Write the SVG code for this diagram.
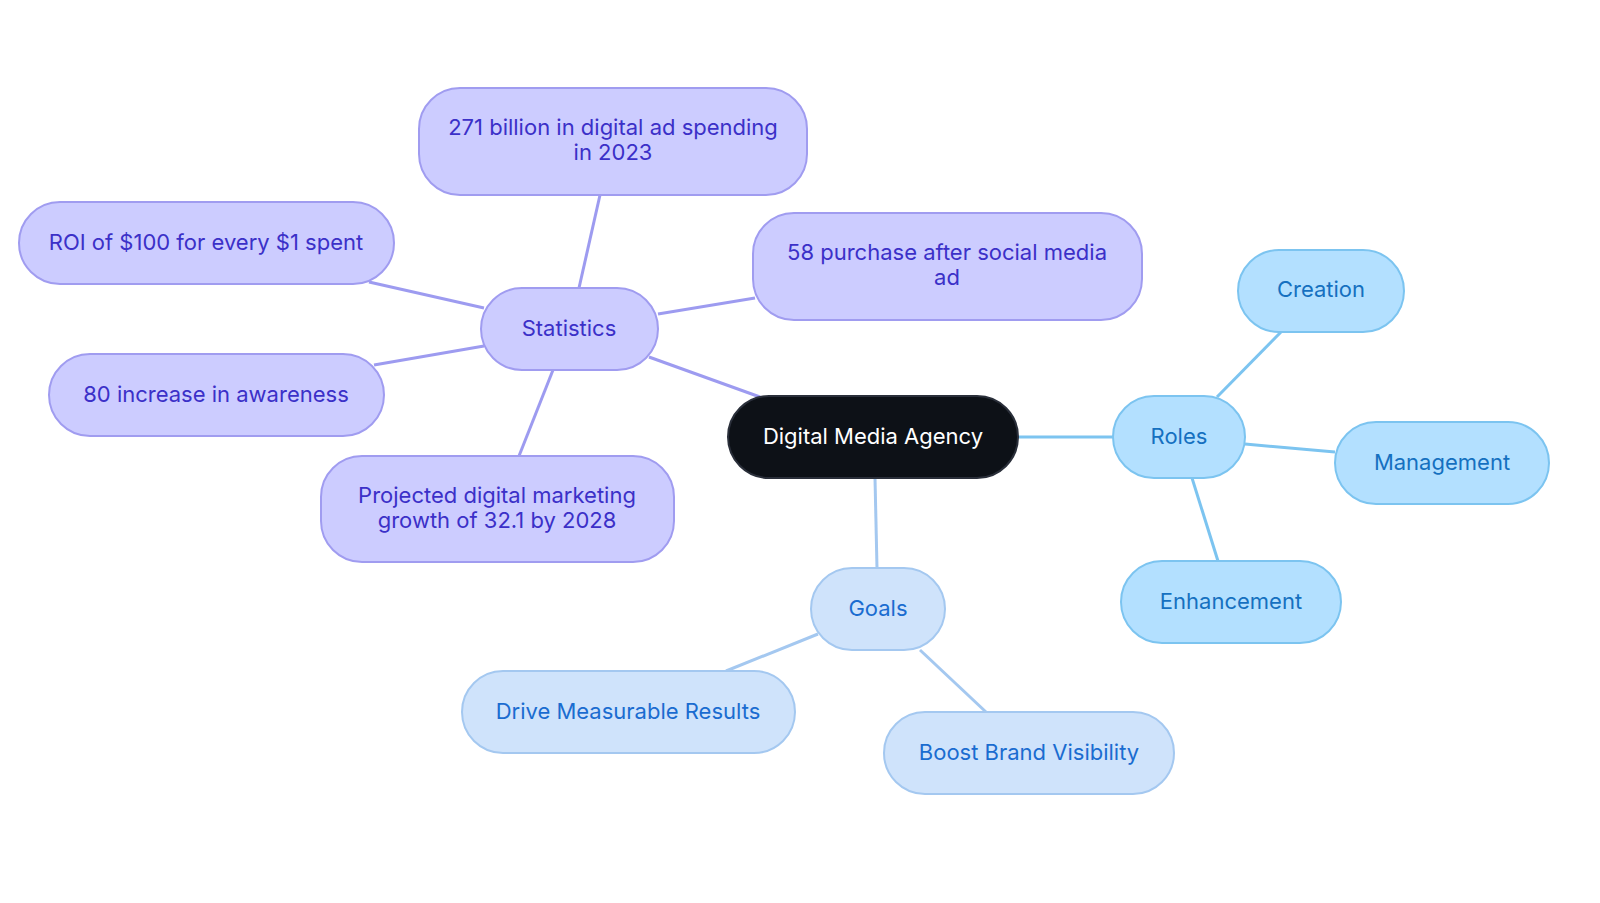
<svg xmlns="http://www.w3.org/2000/svg" width="1600" height="903" viewBox="0 0 1600 903">
<style>
text{font-family:Inter,"Noto Sans","Liberation Sans",sans-serif;font-size:22px;text-anchor:middle;dominant-baseline:central}
.s rect{fill:#ccccff;stroke:#a09cf0;stroke-width:2}.s text{fill:#3b30c8}
.r rect{fill:#b3e0ff;stroke:#7cc4f0;stroke-width:2}.r text{fill:#1570c0}
.g rect{fill:#cfe3fb;stroke:#a4c8f0;stroke-width:2}.g text{fill:#1a6cd0}
.e line{stroke-width:3}
</style>
<rect width="1600" height="903" fill="#fff"/>
<g id="connectors" class="e">
<g stroke="#9d9bf0">
<line x1="760" y1="397" x2="649" y2="357"/><line x1="579" y1="288" x2="600" y2="195"/><line x1="658" y1="314" x2="755" y2="298"/><line x1="484" y1="308" x2="369" y2="282"/><line x1="484" y1="346" x2="374" y2="365"/><line x1="553" y1="370" x2="519" y2="456"/></g>
<g stroke="#7cc4f0">
<line x1="1018" y1="437" x2="1113" y2="437"/><line x1="1217" y1="397" x2="1281" y2="332"/><line x1="1245" y1="444" x2="1335" y2="452"/><line x1="1192" y1="478" x2="1218" y2="561"/></g>
<g stroke="#a4c8f0">
<line x1="875" y1="478" x2="877" y2="568"/><line x1="818" y1="634" x2="726" y2="671"/><line x1="920" y1="650" x2="986" y2="712"/></g>
</g>
<g id="center"><rect x="728" y="396" width="290" height="82" rx="41" fill="#0d1117" stroke="#2a2f3a" stroke-width="2"/><text x="873" y="436" fill="#fff">Digital Media Agency</text></g>
<g id="statistics" class="s"><rect x="481" y="288" width="177" height="82" rx="41"/><text x="569" y="328">Statistics</text></g>
<g id="s1" class="s"><rect x="419" y="88" width="388" height="107" rx="41"/><text x="613" y="127">271 billion in digital ad spending</text><text x="613" y="152">in 2023</text></g>
<g id="s2" class="s"><rect x="19" y="202" width="375" height="82" rx="41"/><text x="206" y="242">ROI of $100 for every $1 spent</text></g>
<g id="s3" class="s"><rect x="753" y="213" width="389" height="107" rx="41"/><text x="947" y="252">58 purchase after social media</text><text x="947" y="277">ad</text></g>
<g id="s4" class="s"><rect x="49" y="354" width="335" height="82" rx="41"/><text x="216" y="394">80 increase in awareness</text></g>
<g id="s5" class="s"><rect x="321" y="456" width="353" height="106" rx="41"/><text x="497" y="495">Projected digital marketing</text><text x="497" y="520">growth of 32.1 by 2028</text></g>
<g id="roles" class="r"><rect x="1113" y="396" width="132" height="82" rx="41"/><text x="1179" y="436">Roles</text></g>
<g id="creation" class="r"><rect x="1238" y="250" width="166" height="82" rx="41"/><text x="1321" y="289">Creation</text></g>
<g id="management" class="r"><rect x="1335" y="422" width="214" height="82" rx="41"/><text x="1442" y="462">Management</text></g>
<g id="enhancement" class="r"><rect x="1121" y="561" width="220" height="82" rx="41"/><text x="1231" y="601">Enhancement</text></g>
<g id="goals" class="g"><rect x="811" y="568" width="134" height="82" rx="41"/><text x="878" y="608">Goals</text></g>
<g id="drive" class="g"><rect x="462" y="671" width="333" height="82" rx="41"/><text x="628" y="711">Drive Measurable Results</text></g>
<g id="boost" class="g"><rect x="884" y="712" width="290" height="82" rx="41"/><text x="1029" y="752">Boost Brand Visibility</text></g>
</svg>
